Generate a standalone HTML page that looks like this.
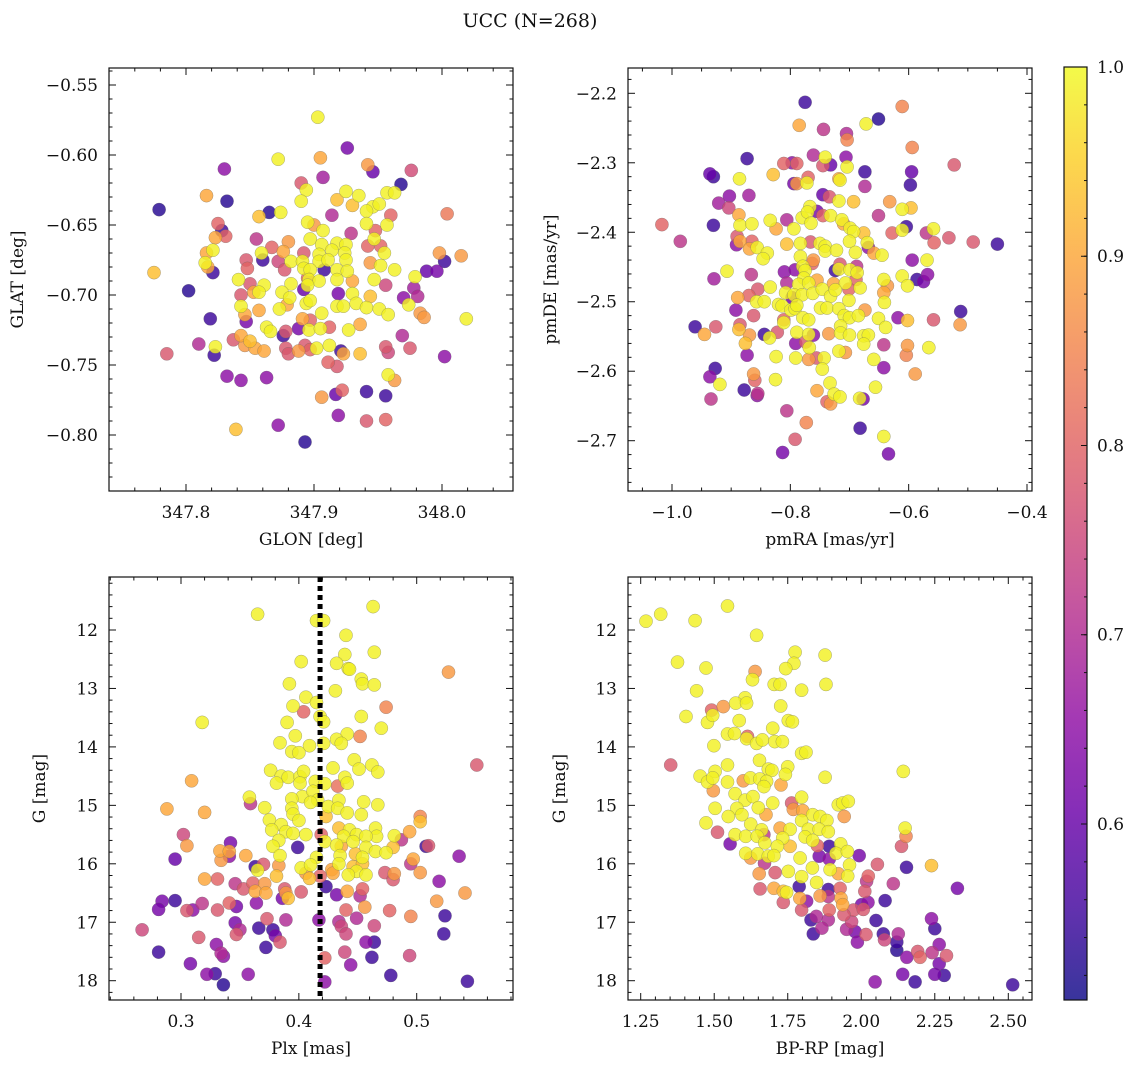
<!DOCTYPE html>
<html><head><meta charset="utf-8"><title>UCC (N=268)</title>
<style>
html,body{margin:0;padding:0;background:#fff;}
svg{display:block;font-family:"DejaVu Serif","Liberation Serif",serif;}
</style></head>
<body>
<svg id="fig" width="1136" height="1067" viewBox="0 0 1136 1067" xmlns="http://www.w3.org/2000/svg">
<rect width="1136" height="1067" fill="#fff"/>
<text x="530" y="27" font-size="19" text-anchor="middle" fill="#111">UCC (N=268)</text>
</svg>
<script>
// ---------- Panel 1: GLON / GLAT ----------
const glon = [347.903,347.926,347.872,347.905,347.942,347.946,347.830,347.907,347.976,347.968,347.816,347.832,347.779,347.890,347.894,347.890,347.925,347.935,347.918,347.930,347.946,347.951,347.957,347.963,347.941,347.865,347.857,347.874,347.914,348.004,347.960,347.825,347.828,347.831,347.823,347.895,347.900,347.907,347.941,347.957,347.948,347.929,347.855,347.947,347.880,347.897,347.906,347.918,347.925,347.867,347.942,347.952,347.816,347.821,347.859,347.876,347.892,347.904,347.914,347.924,347.955,347.998,348.015,347.815,347.847,347.860,347.872,347.882,347.891,347.904,347.911,347.925,347.944,347.952,348.002,347.817,347.821,347.775,347.848,347.877,347.892,347.897,347.908,347.918,347.926,347.963,347.988,347.996,347.979,347.841,347.895,347.896,347.904,347.918,347.930,347.947,347.850,347.861,347.882,347.895,347.956,347.978,347.802,347.853,347.857,347.875,347.892,347.919,347.930,347.944,347.843,347.881,347.970,347.981,347.843,347.857,347.873,347.879,347.894,347.897,347.906,347.918,347.923,347.933,347.941,347.951,347.958,347.974,347.983,347.986,348.019,347.819,347.847,347.846,347.891,347.897,347.863,347.866,347.888,347.896,347.905,347.912,347.927,347.936,347.876,347.878,347.969,347.843,347.837,347.846,347.850,347.810,347.823,347.822,347.785,347.854,347.861,347.878,347.880,347.888,347.893,347.897,347.902,347.912,347.921,347.923,347.936,347.956,347.958,347.975,348.002,347.911,347.918,347.832,347.843,347.863,347.958,347.963,347.906,347.917,347.922,347.941,347.956,347.919,347.941,347.956,347.872,347.839,347.893];
const glat = [-0.573,-0.595,-0.603,-0.602,-0.607,-0.612,-0.610,-0.616,-0.611,-0.621,-0.629,-0.633,-0.639,-0.620,-0.625,-0.633,-0.626,-0.629,-0.632,-0.636,-0.637,-0.635,-0.627,-0.627,-0.640,-0.641,-0.644,-0.641,-0.643,-0.642,-0.643,-0.649,-0.654,-0.658,-0.659,-0.648,-0.650,-0.654,-0.649,-0.650,-0.654,-0.656,-0.660,-0.660,-0.662,-0.660,-0.664,-0.663,-0.664,-0.666,-0.665,-0.665,-0.670,-0.668,-0.670,-0.669,-0.670,-0.671,-0.668,-0.670,-0.670,-0.670,-0.672,-0.677,-0.675,-0.675,-0.676,-0.676,-0.676,-0.676,-0.675,-0.675,-0.677,-0.679,-0.676,-0.680,-0.684,-0.684,-0.681,-0.682,-0.681,-0.682,-0.682,-0.682,-0.683,-0.682,-0.683,-0.683,-0.687,-0.689,-0.688,-0.689,-0.690,-0.689,-0.690,-0.689,-0.692,-0.693,-0.692,-0.693,-0.693,-0.695,-0.697,-0.698,-0.698,-0.698,-0.696,-0.699,-0.699,-0.701,-0.700,-0.702,-0.702,-0.701,-0.708,-0.711,-0.710,-0.707,-0.706,-0.704,-0.713,-0.708,-0.708,-0.706,-0.709,-0.710,-0.714,-0.707,-0.713,-0.716,-0.717,-0.717,-0.719,-0.714,-0.717,-0.718,-0.723,-0.726,-0.724,-0.725,-0.724,-0.723,-0.725,-0.721,-0.729,-0.726,-0.729,-0.729,-0.732,-0.736,-0.733,-0.735,-0.737,-0.743,-0.742,-0.738,-0.740,-0.738,-0.742,-0.740,-0.736,-0.739,-0.738,-0.736,-0.740,-0.742,-0.742,-0.737,-0.741,-0.738,-0.744,-0.748,-0.751,-0.758,-0.761,-0.759,-0.757,-0.761,-0.773,-0.771,-0.768,-0.769,-0.772,-0.786,-0.790,-0.789,-0.793,-0.796,-0.805];
const prob1 = [.99,.62,.99,.9,.88,.6,.65,.68,.76,.53,.9,.53,.53,.78,.99,.99,.99,.99,.93,.93,.99,.99,.99,.99,.99,.53,.93,.99,.7,.83,.8,.8,.55,.8,.9,.99,.88,.99,.99,.99,.8,.72,.72,.99,.88,.99,.99,.99,.99,.8,.8,.8,.9,.99,.99,.9,.78,.99,.99,.99,.99,.88,.88,.99,.78,.55,.75,.99,.99,.99,.99,.99,.88,.99,.55,.9,.55,.93,.8,.78,.99,.99,.55,.99,.99,.99,.6,.62,.99,.99,.8,.99,.99,.99,.9,.99,.78,.99,.99,.99,.75,.68,.53,.9,.99,.99,.6,.62,.99,.93,.78,.99,.65,.7,.99,.9,.99,.9,.99,.99,.99,.99,.99,.99,.99,.99,.99,.99,.88,.88,.99,.55,.62,.9,.9,.8,.99,.99,.62,.99,.99,.8,.99,.9,.55,.78,.7,.9,.78,.88,.93,.7,.99,.55,.78,.9,.9,.78,.78,.88,.78,.8,.99,.99,.55,.9,.93,.78,.75,.78,.65,.8,.78,.65,.65,.65,.99,.88,.88,.6,.8,.55,.55,.65,.78,.8,.65,.93,.53];

// ---------- Panel 2: pmRA / pmDE ----------
const pmra = [-0.775,-0.611,-0.651,-0.672,-0.785,-0.744,-0.705,-0.704,-0.594,-0.873,-0.761,-0.741,-0.706,-0.811,-0.797,-0.789,-0.745,-0.732,-0.704,-0.523,-0.936,-0.930,-0.829,-0.674,-0.595,-0.886,-0.794,-0.789,-0.770,-0.772,-0.718,-0.716,-0.674,-0.597,-0.903,-0.870,-0.745,-0.734,-0.718,-0.693,-0.632,-0.921,-0.904,-0.767,-0.755,-0.611,-0.596,-0.887,-0.834,-0.806,-0.780,-0.771,-0.745,-0.732,-0.713,-0.651,-1.017,-0.930,-0.885,-0.865,-0.765,-0.710,-0.699,-0.604,-0.824,-0.794,-0.693,-0.676,-0.611,-0.558,-0.570,-0.628,-0.532,-0.491,-0.450,-0.557,-0.986,-0.890,-0.891,-0.885,-0.865,-0.806,-0.783,-0.766,-0.750,-0.741,-0.700,-0.670,-0.869,-0.856,-0.839,-0.846,-0.741,-0.722,-0.690,-0.668,-0.659,-0.645,-0.783,-0.594,-0.569,-0.763,-0.761,-0.779,-0.907,-0.810,-0.792,-0.775,-0.724,-0.718,-0.716,-0.699,-0.688,-0.687,-0.611,-0.586,-0.575,-0.568,-0.929,-0.866,-0.777,-0.755,-0.786,-0.806,-0.769,-0.727,-0.707,-0.689,-0.642,-0.636,-0.602,-0.855,-0.834,-0.808,-0.794,-0.797,-0.780,-0.762,-0.746,-0.732,-0.724,-0.701,-0.682,-0.642,-0.889,-0.870,-0.857,-0.844,-0.820,-0.814,-0.799,-0.792,-0.789,-0.749,-0.738,-0.718,-0.701,-0.641,-0.892,-0.512,-0.862,-0.811,-0.779,-0.769,-0.709,-0.700,-0.685,-0.674,-0.618,-0.602,-0.651,-0.558,-0.961,-0.926,-0.945,-0.885,-0.887,-0.869,-0.844,-0.835,-0.822,-0.811,-0.789,-0.769,-0.761,-0.735,-0.715,-0.715,-0.700,-0.676,-0.668,-0.639,-0.513,-0.876,-0.791,-0.774,-0.768,-0.676,-0.642,-0.602,-0.604,-0.566,-0.873,-0.824,-0.791,-0.769,-0.756,-0.743,-0.718,-0.707,-0.659,-0.746,-0.642,-0.927,-0.936,-0.862,-0.860,-0.825,-0.919,-0.589,-0.733,-0.878,-0.855,-0.856,-0.755,-0.726,-0.716,-0.656,-0.934,-0.738,-0.732,-0.677,-0.683,-0.806,-0.773,-0.682,-0.642,-0.792,-0.813,-0.634];
const pmde = [-2.213,-2.219,-2.237,-2.244,-2.246,-2.252,-2.258,-2.267,-2.278,-2.294,-2.289,-2.292,-2.292,-2.301,-2.300,-2.301,-2.304,-2.303,-2.306,-2.303,-2.316,-2.320,-2.317,-2.313,-2.313,-2.323,-2.330,-2.330,-2.321,-2.329,-2.323,-2.325,-2.334,-2.332,-2.348,-2.347,-2.346,-2.349,-2.355,-2.356,-2.356,-2.358,-2.365,-2.363,-2.370,-2.367,-2.365,-2.375,-2.383,-2.382,-2.379,-2.371,-2.376,-2.376,-2.382,-2.376,-2.389,-2.390,-2.390,-2.388,-2.387,-2.388,-2.394,-2.392,-2.395,-2.395,-2.399,-2.401,-2.397,-2.395,-2.401,-2.401,-2.408,-2.414,-2.417,-2.415,-2.413,-2.406,-2.418,-2.413,-2.413,-2.417,-2.416,-2.414,-2.416,-2.420,-2.413,-2.415,-2.424,-2.422,-2.430,-2.438,-2.427,-2.426,-2.429,-2.422,-2.430,-2.433,-2.435,-2.440,-2.440,-2.445,-2.440,-2.449,-2.456,-2.457,-2.454,-2.455,-2.455,-2.453,-2.446,-2.454,-2.449,-2.458,-2.463,-2.468,-2.471,-2.461,-2.467,-2.461,-2.466,-2.469,-2.475,-2.473,-2.473,-2.474,-2.473,-2.468,-2.468,-2.477,-2.477,-2.482,-2.479,-2.487,-2.490,-2.494,-2.490,-2.488,-2.482,-2.492,-2.483,-2.482,-2.480,-2.487,-2.494,-2.491,-2.500,-2.500,-2.504,-2.506,-2.512,-2.510,-2.505,-2.509,-2.509,-2.510,-2.498,-2.501,-2.512,-2.514,-2.520,-2.526,-2.523,-2.526,-2.520,-2.523,-2.520,-2.512,-2.523,-2.527,-2.524,-2.526,-2.536,-2.536,-2.547,-2.533,-2.540,-2.548,-2.547,-2.552,-2.544,-2.530,-2.544,-2.547,-2.548,-2.546,-2.535,-2.545,-2.548,-2.549,-2.548,-2.537,-2.533,-2.560,-2.560,-2.558,-2.566,-2.561,-2.562,-2.563,-2.577,-2.566,-2.577,-2.579,-2.581,-2.583,-2.581,-2.581,-2.571,-2.573,-2.583,-2.597,-2.595,-2.596,-2.608,-2.604,-2.613,-2.612,-2.619,-2.604,-2.617,-2.627,-2.632,-2.635,-2.628,-2.633,-2.637,-2.623,-2.640,-2.644,-2.647,-2.640,-2.639,-2.657,-2.674,-2.682,-2.694,-2.698,-2.717,-2.719];
const prob2 = [.55,.85,.53,.99,.9,.72,.7,.85,.85,.55,.7,.99,.65,.8,.65,.8,.78,.6,.99,.78,.6,.55,.93,.55,.6,.99,.62,.88,.8,.99,.9,.99,.7,.55,.65,.68,.6,.78,.99,.93,.88,.68,.75,.99,.62,.99,.93,.9,.99,.7,.99,.99,.8,.99,.99,.72,.8,.55,.99,.99,.99,.9,.99,.55,.9,.99,.99,.93,.99,.99,.72,.8,.78,.78,.55,.8,.72,.78,.65,.9,.8,.93,.99,.78,.99,.99,.99,.99,.9,.99,.99,.99,.99,.99,.99,.65,.9,.99,.99,.65,.99,.8,.88,.99,.99,.65,.65,.99,.55,.99,.78,.99,.72,.99,.99,.55,.62,.65,.68,.72,.99,.9,.99,.7,.99,.9,.99,.8,.99,.88,.99,.78,.99,.99,.99,.62,.99,.99,.99,.99,.99,.8,.99,.9,.9,.8,.99,.99,.99,.99,.99,.99,.99,.99,.99,.99,.99,.99,.65,.55,.78,.8,.99,.99,.99,.99,.99,.88,.65,.93,.99,.78,.55,.78,.9,.78,.93,.88,.55,.99,.78,.99,.99,.99,.65,.88,.99,.99,.99,.99,.99,.99,.88,.93,.65,.78,.99,.99,.72,.88,.85,.99,.65,.99,.99,.88,.78,.99,.99,.88,.99,.99,.65,.55,.65,.88,.8,.99,.99,.88,.99,.55,.72,.65,.9,.99,.99,.99,.72,.8,.88,.62,.99,.72,.85,.55,.99,.78,.62,.62];

// ---------- Panel 3: Plx / G ----------
const plx = [0.463,0.365,0.415,0.421,0.440,0.464,0.439,0.402,0.432,0.442,0.443,0.527,0.453,0.454,0.464,0.392,0.431,0.406,0.415,0.395,0.474,0.404,0.418,0.421,0.453,0.318,0.390,0.470,0.441,0.432,0.436,0.397,0.452,0.384,0.409,0.421,0.394,0.400,0.447,0.462,0.551,0.451,0.429,0.467,0.376,0.385,0.391,0.401,0.404,0.439,0.309,0.381,0.401,0.414,0.422,0.433,0.441,0.403,0.412,0.416,0.358,0.359,0.394,0.410,0.425,0.434,0.455,0.467,0.288,0.320,0.371,0.394,0.395,0.433,0.441,0.453,0.423,0.503,0.503,0.375,0.385,0.400,0.434,0.443,0.465,0.466,0.302,0.377,0.389,0.395,0.406,0.419,0.438,0.449,0.457,0.481,0.494,0.487,0.305,0.383,0.399,0.378,0.422,0.432,0.436,0.446,0.457,0.465,0.474,0.480,0.508,0.510,0.342,0.333,0.341,0.341,0.334,0.355,0.295,0.384,0.415,0.435,0.448,0.454,0.536,0.370,0.363,0.365,0.383,0.402,0.410,0.406,0.428,0.434,0.446,0.454,0.449,0.457,0.442,0.495,0.497,0.320,0.331,0.381,0.409,0.418,0.429,0.473,0.481,0.480,0.503,0.519,0.346,0.353,0.361,0.371,0.363,0.372,0.388,0.389,0.391,0.386,0.402,0.423,0.432,0.441,0.452,0.454,0.541,0.284,0.295,0.281,0.305,0.310,0.318,0.331,0.341,0.347,0.364,0.440,0.456,0.477,0.517,0.495,0.524,0.267,0.315,0.346,0.350,0.347,0.366,0.373,0.378,0.380,0.384,0.389,0.417,0.434,0.436,0.440,0.449,0.464,0.523,0.372,0.330,0.334,0.336,0.281,0.439,0.457,0.464,0.462,0.422,0.494,0.444,0.308,0.322,0.329,0.357,0.336,0.422,0.478,0.543];
const gmag3 = [11.60,11.73,11.84,11.84,12.09,12.38,12.42,12.54,12.57,12.66,12.67,12.72,12.84,12.92,12.94,12.92,13.04,13.15,13.24,13.30,13.32,13.40,13.48,13.57,13.48,13.58,13.58,13.68,13.78,13.87,13.94,13.81,13.82,13.93,13.98,13.94,14.08,14.10,14.22,14.31,14.31,14.38,14.36,14.43,14.40,14.50,14.52,14.51,14.42,14.52,14.58,14.62,14.62,14.59,14.63,14.67,14.62,14.85,14.76,14.91,14.86,14.97,14.89,14.95,15.02,14.91,14.94,14.99,15.06,15.12,15.04,15.05,15.15,15.05,15.13,15.16,15.19,15.19,15.28,15.25,15.33,15.26,15.39,15.42,15.39,15.53,15.50,15.42,15.45,15.48,15.50,15.50,15.53,15.50,15.53,15.52,15.45,15.59,15.69,15.60,15.72,15.70,15.62,15.68,15.70,15.62,15.72,15.79,15.81,15.72,15.70,15.69,15.64,15.78,15.79,15.87,15.94,15.86,15.92,15.86,15.89,15.86,15.83,15.89,15.87,16.01,16.05,16.11,16.03,16.07,16.02,16.16,16.10,16.00,16.05,16.00,16.13,16.19,16.19,16.00,15.92,16.26,16.26,16.21,16.25,16.21,16.16,16.15,16.17,16.27,16.15,16.30,16.34,16.43,16.33,16.34,16.47,16.50,16.43,16.50,16.59,16.59,16.48,16.39,16.53,16.47,16.55,16.43,16.50,16.64,16.63,16.78,16.80,16.79,16.68,16.79,16.67,16.73,16.67,16.79,16.74,16.80,16.64,16.90,16.89,17.13,17.26,17.01,17.13,17.21,17.10,16.94,17.13,17.23,17.34,16.96,16.96,16.99,17.07,17.20,16.93,17.06,17.20,17.43,17.38,17.53,17.58,17.51,17.51,17.34,17.34,17.60,17.61,17.57,17.73,17.71,17.89,17.88,17.89,18.07,18.02,17.91,18.01];
const prob3 = [.99,.99,.99,.99,.99,.99,.99,.99,.99,.99,.99,.88,.99,.99,.99,.99,.99,.99,.99,.99,.85,.8,.99,.99,.99,.99,.99,.99,.99,.99,.99,.99,.85,.99,.99,.99,.99,.99,.99,.99,.78,.99,.99,.99,.99,.99,.99,.99,.99,.99,.9,.99,.99,.99,.99,.82,.99,.99,.99,.99,.99,.72,.99,.99,.99,.99,.99,.99,.9,.9,.99,.99,.99,.99,.99,.99,.93,.85,.93,.99,.99,.99,.93,.99,.99,.99,.75,.99,.99,.99,.99,.8,.99,.99,.99,.99,.9,.72,.88,.99,.55,.99,.99,.99,.9,.99,.99,.99,.99,.93,.55,.78,.62,.9,.9,.65,.88,.9,.6,.99,.99,.99,.93,.99,.65,.78,.55,.99,.88,.99,.99,.88,.9,.99,.93,.93,.99,.99,.99,.72,.9,.9,.8,.93,.93,.8,.9,.78,.88,.78,.88,.65,.72,.78,.8,.88,.9,.9,.78,.88,.93,.62,.78,.55,.62,.9,.7,.8,.88,.62,.55,.62,.78,.65,.72,.78,.8,.62,.65,.8,.88,.8,.88,.85,.55,.75,.78,.62,.7,.78,.55,.78,.55,.62,.78,.7,.65,.7,.75,.75,.7,.75,.55,.55,.65,.7,.65,.55,.75,.65,.55,.55,.8,.75,.65,.62,.65,.55,.65,.53,.65,.55,.55];

// ---------- Panel 4: BP-RP / G ----------
const bprp = [1.268,1.318,1.435,1.545,1.644,1.375,1.472,1.775,1.877,1.771,1.743,1.639,1.630,1.880,1.704,1.724,1.797,1.440,1.605,1.573,1.610,1.531,1.491,1.726,1.404,1.477,1.495,1.585,1.752,1.766,1.699,1.545,1.569,1.613,1.610,1.644,1.664,1.706,1.732,1.499,1.797,1.812,1.352,1.545,1.654,1.684,1.696,1.750,1.742,2.143,1.877,1.452,1.503,1.477,1.495,1.545,1.599,1.623,1.655,1.678,1.669,1.727,1.497,1.571,1.605,1.632,1.763,1.797,1.699,1.922,1.937,1.956,1.503,1.577,1.650,1.769,1.801,1.548,1.594,1.676,1.835,1.860,1.883,1.942,1.472,1.624,1.661,1.724,1.758,1.797,1.820,1.857,1.888,2.149,2.152,1.511,1.571,1.607,1.646,1.669,1.672,1.733,1.809,1.835,1.554,1.715,1.758,1.851,1.891,1.930,2.137,1.607,1.624,1.648,1.684,1.703,1.671,1.792,1.857,1.891,1.914,1.953,1.993,2.055,2.154,2.239,1.653,1.707,1.752,1.797,1.834,1.894,1.922,1.960,1.954,2.024,2.018,2.109,1.656,1.703,1.735,1.746,1.789,1.848,1.888,1.928,2.012,2.327,1.735,1.791,1.814,1.860,1.888,1.931,1.937,1.797,1.891,1.974,2.001,2.023,2.081,1.829,1.847,1.888,1.941,1.967,2.007,2.050,2.239,2.250,1.837,1.866,1.950,1.979,2.016,1.987,2.075,2.079,2.126,2.121,2.121,2.155,2.192,2.200,2.241,2.265,2.290,2.265,2.141,2.183,2.250,2.282,2.047,2.515];
const gmag4 = [11.85,11.73,11.84,11.59,12.09,12.55,12.65,12.38,12.43,12.57,12.66,12.71,12.85,12.93,12.93,12.93,13.03,13.04,13.16,13.25,13.25,13.31,13.37,13.30,13.48,13.58,13.46,13.55,13.55,13.57,13.68,13.78,13.77,13.82,13.86,13.94,13.88,13.91,13.91,13.98,14.11,14.09,14.31,14.31,14.23,14.38,14.40,14.34,14.47,14.42,14.52,14.50,14.42,14.60,14.53,14.60,14.58,14.53,14.55,14.59,14.68,14.65,14.75,14.80,14.91,14.85,14.96,14.86,14.96,14.99,14.96,14.93,15.05,15.05,15.04,15.07,15.09,15.19,15.16,15.16,15.16,15.19,15.26,15.19,15.30,15.32,15.42,15.39,15.41,15.26,15.41,15.41,15.45,15.39,15.53,15.46,15.50,15.53,15.53,15.50,15.64,15.56,15.54,15.60,15.66,15.70,15.70,15.69,15.70,15.66,15.70,15.82,15.90,15.83,15.87,15.86,15.99,15.90,15.87,15.92,15.82,15.79,15.86,16.01,16.06,16.03,16.17,16.15,16.13,16.22,16.07,16.10,16.17,16.02,16.21,16.21,16.30,16.34,16.43,16.42,16.47,16.49,16.39,16.32,16.44,16.42,16.47,16.42,16.66,16.59,16.64,16.55,16.56,16.59,16.70,16.79,16.79,16.79,16.70,16.66,16.63,16.96,16.90,16.96,16.87,16.99,16.78,16.97,16.94,17.11,17.20,17.10,17.12,17.16,17.21,17.34,17.20,17.30,17.20,17.34,17.48,17.60,17.50,17.60,17.52,17.38,17.57,17.71,17.89,18.02,17.89,17.91,18.02,18.07];
const prob4 = [.99,.99,.99,.99,.99,.99,.99,.99,.99,.99,.99,.88,.99,.99,.99,.99,.99,.99,.99,.99,.99,.88,.8,.99,.99,.99,.99,.99,.99,.99,.99,.99,.99,.8,.99,.99,.99,.99,.99,.99,.99,.99,.78,.99,.99,.99,.99,.99,.99,.99,.99,.99,.99,.99,.99,.99,.88,.99,.99,.99,.99,.9,.88,.99,.99,.99,.78,.99,.99,.99,.99,.99,.99,.99,.99,.88,.9,.99,.99,.9,.99,.99,.99,.88,.99,.99,.99,.9,.99,.99,.99,.99,.99,.99,.85,.78,.99,.99,.99,.72,.99,.99,.99,.99,.62,.99,.93,.8,.55,.99,.78,.99,.88,.99,.99,.99,.72,.99,.62,.65,.99,.99,.62,.78,.55,.93,.88,.78,.99,.99,.99,.99,.9,.99,.99,.8,.72,.72,.78,.9,.93,.99,.55,.99,.55,.8,.78,.62,.78,.9,.65,.88,.72,.9,.9,.78,.8,.78,.62,.65,.55,.55,.7,.7,.78,.75,.78,.55,.65,.55,.55,.7,.7,.62,.78,.65,.55,.75,.7,.55,.53,.65,.78,.8,.72,.65,.78,.62,.62,.55,.62,.55,.65,.55];

// ---------- Colorbar ----------
const cbTicks = [0.6, 0.7, 0.8, 0.9, 1.0];
const cbMin = 0.507, cbMax = 1.0;

const NS = "http://www.w3.org/2000/svg";
const svg = document.getElementById("fig");
function mk(tag, attrs, parent) {
  const e = document.createElementNS(NS, tag);
  for (const k in attrs) e.setAttribute(k, attrs[k]);
  (parent || svg).appendChild(e);
  return e;
}
const plasma = [[13,8,135],[65,4,157],[106,0,168],[143,13,164],[177,42,144],[204,71,120],[225,100,98],[242,132,75],[252,166,54],[252,206,37],[240,249,33]];
function cmap(v) {
  let t = (v - cbMin) / (cbMax - cbMin);
  t = Math.max(0, Math.min(1, t)) * 10;
  const i = Math.min(9, Math.floor(t)), f = t - i;
  const a = plasma[i], b = plasma[i + 1];
  return "rgb(" + [0,1,2].map(k => Math.round(a[k] + (b[k] - a[k]) * f)).join(",") + ")";
}
function lin(d0, p0, d1, p1) { return v => p0 + (v - d0) * (p1 - p0) / (d1 - d0); }
function fmt(v, dec) { const s = Math.abs(v).toFixed(dec); return (v < 0 ? "\u2212" : "") + s; }

function panel(cfg) {
  const g = mk("g", {});
  
  
  const L = cfg.box[0], T = cfg.box[1], R = cfg.box[2], B = cfg.box[3];
  const sx = lin(cfg.xr[0], cfg.xr[1], cfg.xr[2], cfg.xr[3]);
  const sy = lin(cfg.yr[0], cfg.yr[1], cfg.yr[2], cfg.yr[3]);
  const clipId = cfg.name + "-clip";
  const cp = mk("clipPath", { id: clipId }, g);
  mk("rect", { x: L, y: T, width: R - L, height: B - T }, cp);
  const pts = mk("g", { "clip-path": "url(#" + clipId + ")" }, g);
  
  
  const n = Math.min(cfg.xs.length, cfg.ys.length, cfg.cs.length);
  const idx = [];
  for (let i = 0; i < n; i++) idx.push(i);
  idx.sort((a, b) => cfg.cs[a] - cfg.cs[b]);
  for (const i of idx) {
    const c = mk("circle", { cx: sx(cfg.xs[i]).toFixed(1), cy: sy(cfg.ys[i]).toFixed(1), r: 6.6, fill: cmap(cfg.cs[i]), "fill-opacity": 0.82, stroke: "#666", "stroke-opacity": 0.55, "stroke-width": 0.5 }, pts);
    
    
  }
  if (cfg.vline !== undefined) {
    const vl = mk("line", { x1: sx(cfg.vline), x2: sx(cfg.vline), y1: T, y2: B, stroke: "#000", "stroke-width": 5, "stroke-dasharray": "5,4" }, pts);
    
    
  }
  const tg = mk("g", { stroke: "#111", "stroke-width": 1 }, g);
  
  
  const xlo = Math.min(cfg.xlim[0], cfg.xlim[1]), xhi = Math.max(cfg.xlim[0], cfg.xlim[1]);
  for (let k = Math.ceil(xlo / cfg.xminor - 1e-6); k * cfg.xminor <= xhi + 1e-9; k++) {
    const v = k * cfg.xminor, x = sx(v);
    if (x < L + 0.5 || x > R - 0.5) continue;
    const major = cfg.xmaj.some(m => Math.abs(m - v) < cfg.xminor / 10);
    const len = major ? 7 : 3.5;
    mk("line", { x1: x, x2: x, y1: B, y2: B - len }, tg);
    mk("line", { x1: x, x2: x, y1: T, y2: T + len }, tg);
  }
  const ylo = Math.min(cfg.ylim[0], cfg.ylim[1]), yhi = Math.max(cfg.ylim[0], cfg.ylim[1]);
  for (let k = Math.ceil(ylo / cfg.yminor - 1e-6); k * cfg.yminor <= yhi + 1e-9; k++) {
    const v = k * cfg.yminor, y = sy(v);
    if (y < T + 0.5 || y > B - 0.5) continue;
    const major = cfg.ymaj.some(m => Math.abs(m - v) < cfg.yminor / 10);
    const len = major ? 7 : 3.5;
    mk("line", { x1: L, x2: L + len, y1: y, y2: y }, tg);
    mk("line", { x1: R, x2: R - len, y1: y, y2: y }, tg);
  }
  const fr = mk("rect", { x: L, y: T, width: R - L, height: B - T, fill: "none", stroke: "#111", "stroke-width": 1.2 }, g);
  
  
  for (const m of cfg.xmaj) {
    const t = mk("text", { x: sx(m), y: B + 27, "font-size": 17, "text-anchor": "middle", fill: "#111" }, g);
    t.textContent = fmt(m, cfg.xdec);
    
    
  }
  for (const m of cfg.ymaj) {
    const t = mk("text", { x: L - 11, y: sy(m) + 6, "font-size": 17, "text-anchor": "end", fill: "#111" }, g);
    t.textContent = fmt(m, cfg.ydec);
    
    
  }
  const xt = mk("text", { x: (L + R) / 2, y: B + 54, "font-size": 17, "text-anchor": "middle", fill: "#111" }, g);
  xt.textContent = cfg.xlabel;
  
  
  const yc = (T + B) / 2;
  const yt = mk("text", { x: cfg.ylabx, y: yc, "font-size": 17, "text-anchor": "middle", fill: "#111", transform: "rotate(-90 " + cfg.ylabx + " " + yc + ")" }, g);
  yt.textContent = cfg.ylabel;
  
  
}

panel({ name: "glon-glat-panel", box: [109, 68, 513, 491], xr: [347.8, 186, 348.0, 442], yr: [-0.55, 85, -0.80, 435],
  xs: glon, ys: glat, cs: prob1, xlim: [347.73, 348.06], ylim: [-0.85, -0.53], xmaj: [347.8, 347.9, 348.0], xminor: 0.02, xdec: 1,
  ymaj: [-0.55, -0.60, -0.65, -0.70, -0.75, -0.80], yminor: 0.01, ydec: 2, xlabel: "GLON [deg]", ylabel: "GLAT [deg]", ylabx: 23 });
panel({ name: "pm-panel", box: [628, 68, 1032, 491], xr: [-1.0, 672, -0.4, 1027], yr: [-2.2, 93.3, -2.7, 440.7],
  xs: pmra, ys: pmde, cs: prob2, xlim: [-1.1, -0.38], ylim: [-2.78, -2.15], xmaj: [-1.0, -0.8, -0.6, -0.4], xminor: 0.05, xdec: 1,
  ymaj: [-2.2, -2.3, -2.4, -2.5, -2.6, -2.7], yminor: 0.02, ydec: 1, xlabel: "pmRA [mas/yr]", ylabel: "pmDE [mas/yr]", ylabx: 556 });
panel({ name: "plx-g-panel", box: [109, 577, 513, 1000], xr: [0.3, 181, 0.5, 416.7], yr: [12, 630, 18, 980.7],
  xs: plx, ys: gmag3, cs: prob3, xlim: [0.23, 0.59], ylim: [11.0, 18.4], xmaj: [0.3, 0.4, 0.5], xminor: 0.02, xdec: 1,
  ymaj: [12, 13, 14, 15, 16, 17, 18], yminor: 0.2, ydec: 0, xlabel: "Plx [mas]", ylabel: "G [mag]", ylabx: 45, vline: 0.418 });
panel({ name: "cmd-panel", box: [628, 577, 1032, 1000], xr: [1.25, 640.7, 2.5, 1008.3], yr: [12, 630, 18, 980.7],
  xs: bprp, ys: gmag4, cs: prob4, xlim: [1.2, 2.6], ylim: [11.0, 18.4], xmaj: [1.25, 1.5, 1.75, 2.0, 2.25, 2.5], xminor: 0.05, xdec: 2,
  ymaj: [12, 13, 14, 15, 16, 17, 18], yminor: 0.2, ydec: 0, xlabel: "BP-RP [mag]", ylabel: "G [mag]", ylabx: 565 });

(function () {
  const L = 1064, R = 1087, T = 67, B = 1000;
  const sy = lin(cbMin, B, cbMax, T);
  const defs = mk("defs", {});
  const gr = mk("linearGradient", { id: "cbgrad", x1: 0, y1: 1, x2: 0, y2: 0 }, defs);
  for (let i = 0; i <= 20; i++) {
    const v = cbMin + (cbMax - cbMin) * i / 20;
    mk("stop", { offset: (i / 20).toFixed(3), "stop-color": cmap(v) }, gr);
  }
  const g = mk("g", {});
  
  
  mk("rect", { x: L, y: T, width: R - L, height: B - T, fill: "url(#cbgrad)", "fill-opacity": 0.82 }, g);
  mk("rect", { x: L, y: T, width: R - L, height: B - T, fill: "none", stroke: "#111", "stroke-width": 1.2 }, g);
  for (let v = 0.52; v <= 0.999; v += 0.02) {
    const y = sy(v);
    mk("line", { x1: R, x2: R - 3, y1: y, y2: y, stroke: "#111", "stroke-width": 1 }, g);
  }
  for (const m of cbTicks) {
    const y = sy(m);
    mk("line", { x1: R, x2: R - 6, y1: y, y2: y, stroke: "#111", "stroke-width": 1 }, g);
    const t = mk("text", { x: R + 10, y: y + 6, "font-size": 17, fill: "#111" }, g);
    t.textContent = m.toFixed(1);
    
    
  }
})();
</script>
</body></html>
